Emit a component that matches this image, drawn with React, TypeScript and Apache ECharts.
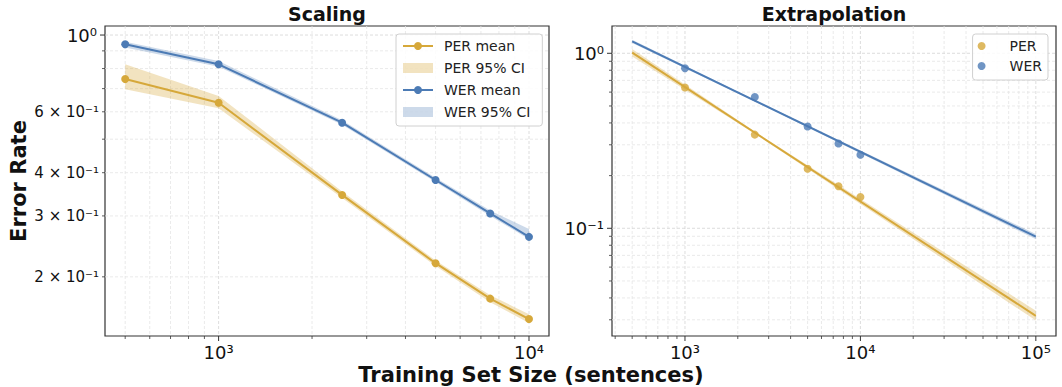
import React, { useEffect, useRef } from "react";
import * as echarts from "echarts";

// ---------- data ----------
const sizes = [500, 1000, 2500, 5000, 7500, 10000];
const perMean = [0.746, 0.637, 0.345, 0.219, 0.173, 0.151];
const perLow = [0.697, 0.614, 0.338, 0.215, 0.169, 0.147];
const perHigh = [0.823, 0.667, 0.353, 0.223, 0.177, 0.156];
const werMean = [0.94, 0.823, 0.558, 0.381, 0.305, 0.261];
const werLow = [0.921, 0.81, 0.55, 0.376, 0.3, 0.257];
const werHigh = [0.956, 0.841, 0.567, 0.387, 0.311, 0.275];

const obsSizes = [1000, 2500, 5000, 7500, 10000];
const perObs = [0.637, 0.343, 0.219, 0.174, 0.151];
const werObs = [0.822, 0.562, 0.382, 0.305, 0.263];

const fitSizes = [500, 100000];
const perFit = [1.008, 0.0316];
const werFit = [1.17, 0.0895];
const fitBandSizes = [500, 2500, 100000];
const perFitLow = [0.958, 0.347, 0.0297];
const perFitHigh = [1.058, 0.357, 0.0338];
const werFitLow = [1.145, 0.531, 0.0866];
const werFitHigh = [1.195, 0.541, 0.0927];

// tick labels
const leftXTicks = [1000, 10000];
const leftXLabels = ["10³", "10⁴"];
const leftYMajor = [1];
const leftYMajorLabels = ["10⁰"];
const leftYMinor = [0.6, 0.4, 0.3, 0.2];
const leftYMinorLabels = ["6 × 10⁻¹", "4 × 10⁻¹", "3 × 10⁻¹", "2 × 10⁻¹"];
const rightXTicks = [1000, 10000, 100000];
const rightXLabels = ["10³", "10⁴", "10⁵"];
const rightYTicks = [1, 0.1];
const rightYLabels = ["10⁰", "10⁻¹"];

// ---------- style ----------
const FONT = "DejaVu Sans";
const GOLD = "#D6A83A";
const BLUE = "#4C7BB5";
const GOLD_BAND = "rgba(214,168,58,0.32)";
const BLUE_BAND = "rgba(76,123,181,0.28)";
const G1 = { left: 105, top: 26, width: 444, height: 310 };
const G2 = { left: 612, top: 26, width: 444, height: 310 };
const AX = [
  { xmin: 430.5, xmax: 11600, ymin: 0.1349, ymax: 1.062 },
  { xmin: 383.7, xmax: 130300, ymin: 0.02424, ymax: 1.432 },
];

function bandSeries(name: string, xs: number[], lo: number[], hi: number[], color: string, idx: number) {
  return {
    type: "custom",
    name,
    xAxisIndex: idx,
    yAxisIndex: idx,
    z: 2,
    silent: true,
    data: xs.map((x, i) => [x, lo[i], hi[i]]),
    encode: { x: 0, y: [1, 2] },
    itemStyle: { color },
    renderItem: (params: any, api: any) => {
      if (params.dataIndex !== 0) return { type: "group", children: [] };
      const pts: number[][] = [];
      for (let i = 0; i < xs.length; i++) pts.push(api.coord([xs[i], hi[i]]));
      for (let i = xs.length - 1; i >= 0; i--) pts.push(api.coord([xs[i], lo[i]]));
      return { type: "polygon", shape: { points: pts }, style: { fill: color } };
    },
  };
}

function lineSeries(name: string, xs: number[], ys: number[], color: string, idx: number, symbol: boolean) {
  return {
    type: "line",
    name,
    xAxisIndex: idx,
    yAxisIndex: idx,
    z: 3,
    data: xs.map((x, i) => [x, ys[i]]),
    symbol: symbol ? "circle" : "none",
    showSymbol: symbol,
    symbolSize: 8,
    lineStyle: { color, width: 2 },
    itemStyle: { color },
  };
}

function axisPair(i: number) {
  const a = AX[i];
  const hidden = {
    axisLine: { show: false },
    axisTick: { show: false },
    axisLabel: { show: false },
    splitLine: { show: false },
  };
  return {
    x: { type: "log", logBase: 10, gridIndex: i, min: a.xmin, max: a.xmax, ...hidden },
    y: { type: "log", logBase: 10, gridIndex: i, min: a.ymin, max: a.ymax, ...hidden },
  };
}

function logValues(min: number, max: number) {
  const out: { v: number; major: boolean }[] = [];
  for (let e = Math.floor(Math.log10(min)); e <= Math.ceil(Math.log10(max)); e++) {
    for (let m = 1; m <= 9; m++) {
      const v = m * Math.pow(10, e);
      if (v >= min * 1.0001 && v <= max * 0.9999) out.push({ v, major: m === 1 });
    }
  }
  return out;
}

function buildGraphics(chart: any) {
  const els: any[] = [];
  const grids = [G1, G2];
  const txt = (x: number, y: number, text: string, size: number, align: string, valign: string, extra: any = {}) => ({
    type: "text",
    x,
    y,
    z: 6,
    silent: true,
    ...extra,
    style: {
      text,
      fontSize: size,
      fontFamily: FONT,
      fontWeight: extra.bold ? "bold" : "normal",
      fill: "#111",
      align,
      verticalAlign: valign,
      textAlign: align,
      textVerticalAlign: valign,
    },
  });
  for (let i = 0; i < 2; i++) {
    const g = grids[i];
    const a = AX[i];
    const bottom = g.top + g.height;
    const left = g.left;
    const px = (v: number) => chart.convertToPixel({ xAxisIndex: i }, v);
    const py = (v: number) => chart.convertToPixel({ yAxisIndex: i }, v);
    const yTop = py(a.ymax);
    const yBot = py(a.ymin);
    const xL = px(a.xmin);
    const xR = px(a.xmax);
    for (const t of logValues(a.xmin, a.xmax)) {
      const x = px(t.v);
      els.push({
        type: "line", z: 0, silent: true,
        shape: { x1: x, y1: yTop, x2: x, y2: yBot },
        style: { stroke: t.major ? "#d4d4d4" : "#e4e4e4", lineWidth: 0.8, lineDash: [3, 2] },
      });
      const len = t.major ? 5 : 3;
      els.push({
        type: "line", z: 6, silent: true,
        shape: { x1: x, y1: bottom, x2: x, y2: bottom + len },
        style: { stroke: "#333", lineWidth: t.major ? 1 : 0.8 },
      });
    }
    for (const t of logValues(a.ymin, a.ymax)) {
      const y = py(t.v);
      els.push({
        type: "line", z: 0, silent: true,
        shape: { x1: xL, y1: y, x2: xR, y2: y },
        style: { stroke: t.major ? "#d4d4d4" : "#e4e4e4", lineWidth: 0.8, lineDash: [3, 2] },
      });
      const len = t.major ? 5 : 3;
      els.push({
        type: "line", z: 6, silent: true,
        shape: { x1: left - len, y1: y, x2: left, y2: y },
        style: { stroke: "#333", lineWidth: t.major ? 1 : 0.8 },
      });
    }
    const xt = i === 0 ? leftXTicks : rightXTicks;
    const xl = i === 0 ? leftXLabels : rightXLabels;
    xt.forEach((v, k) => els.push(txt(px(v), bottom + 7, xl[k], 18, "center", "top")));
    if (i === 0) {
      leftYMajor.forEach((v, k) => els.push(txt(left - 8, py(v), leftYMajorLabels[k], 18, "right", "middle")));
      leftYMinor.forEach((v, k) => els.push(txt(left - 6, py(v), leftYMinorLabels[k], 15, "right", "middle")));
    } else {
      rightYTicks.forEach((v, k) => els.push(txt(left - 8, py(v), rightYLabels[k], 18, "right", "middle")));
    }
  }
  els.push(txt(G1.left + G1.width / 2, 14, "Scaling", 19, "center", "middle", { bold: true }));
  els.push(txt(G2.left + G2.width / 2, 14, "Extrapolation", 19, "center", "middle", { bold: true }));
  els.push(txt(19, G1.top + G1.height / 2, "Error Rate", 21, "center", "middle", { bold: true, rotation: Math.PI / 2 }));
  els.push(txt(531, 375, "Training Set Size (sentences)", 21, "center", "middle", { bold: true }));
  return els;
}

export default function App() {
  const ref = useRef<HTMLDivElement>(null);
  useEffect(() => {
    const el = ref.current;
    if (!el) return;
    const chart = echarts.init(el, null, { renderer: "svg" });
    const a0 = axisPair(0);
    const a1 = axisPair(1);
    const legendText = { fontSize: 14, fontFamily: FONT, color: "#222", lineHeight: 16, padding: [0, 0, 0, 6] };
    const option: any = {
      animation: false,
      backgroundColor: "#fff",
      grid: [
        { ...G1, show: true, borderColor: "#333", borderWidth: 1.2, backgroundColor: "transparent" },
        { ...G2, show: true, borderColor: "#333", borderWidth: 1.2, backgroundColor: "transparent" },
      ],
      xAxis: [a0.x, a1.x],
      yAxis: [a0.y, a1.y],
      legend: [
        {
          left: 396,
          top: 34,
          orient: "vertical",
          selectedMode: false,
          itemWidth: 30,
          itemHeight: 10,
          itemGap: 6,
          padding: [4, 12, 6, 6],
          borderColor: "#d0d0d0",
          borderWidth: 1,
          borderRadius: 3,
          backgroundColor: "rgba(255,255,255,0.85)",
          textStyle: legendText,
          data: [
            { name: "PER mean" },
            { name: "PER 95% CI", icon: "rect" },
            { name: "WER mean" },
            { name: "WER 95% CI", icon: "rect" },
          ],
        },
        {
          right: 14,
          top: 34,
          orient: "vertical",
          selectedMode: false,
          itemWidth: 30,
          itemHeight: 8,
          itemGap: 4,
          padding: [4, 6, 6, 5],
          borderColor: "#d0d0d0",
          borderWidth: 1,
          borderRadius: 3,
          backgroundColor: "rgba(255,255,255,0.85)",
          textStyle: { ...legendText, padding: [0, 0, 0, 8] },
          data: [{ name: "PER", icon: "circle" }, { name: "WER", icon: "circle" }],
        },
      ],
      series: [
        bandSeries("PER 95% CI", sizes, perLow, perHigh, GOLD_BAND, 0),
        bandSeries("WER 95% CI", sizes, werLow, werHigh, BLUE_BAND, 0),
        lineSeries("PER mean", sizes, perMean, GOLD, 0, true),
        lineSeries("WER mean", sizes, werMean, BLUE, 0, true),
        bandSeries("PER fit CI", fitBandSizes, perFitLow, perFitHigh, GOLD_BAND, 1),
        bandSeries("WER fit CI", fitBandSizes, werFitLow, werFitHigh, BLUE_BAND, 1),
        lineSeries("PER fit", fitSizes, perFit, GOLD, 1, false),
        lineSeries("WER fit", fitSizes, werFit, BLUE, 1, false),
        {
          type: "scatter", name: "PER", xAxisIndex: 1, yAxisIndex: 1, z: 4,
          symbol: "circle", symbolSize: 8, itemStyle: { color: GOLD },
          data: obsSizes.map((x, i) => [x, perObs[i]]),
        },
        {
          type: "scatter", name: "WER", xAxisIndex: 1, yAxisIndex: 1, z: 4,
          symbol: "circle", symbolSize: 8, itemStyle: { color: BLUE },
          data: obsSizes.map((x, i) => [x, werObs[i]]),
        },
      ],
    };
    chart.setOption(option);
    chart.setOption({ graphic: { elements: buildGraphics(chart) } });
    return () => chart.dispose();
  }, []);
  return (
    <div
      ref={ref}
      style={{ position: "absolute", left: 0, top: 0, width: 1062, height: 387, background: "#fff" }}
    />
  );
}
